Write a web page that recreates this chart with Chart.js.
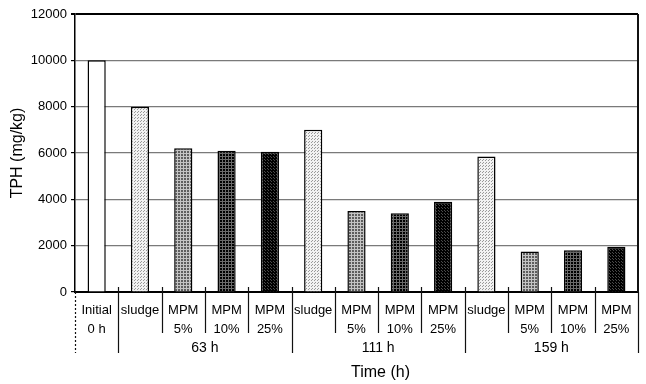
<!DOCTYPE html>
<html>
<head>
<meta charset="utf-8">
<script src="https://cdn.jsdelivr.net/npm/chart.js@4.4.1/dist/chart.umd.min.js"></script>
<style>
  html, body { margin: 0; padding: 0; background: #fff; }
  #wrap { width: 646px; height: 384px; }
</style>
</head>
<body>
<div id="wrap"><canvas id="tphChart"></canvas></div>
<script>
// data
const categories = [
  ['Initial', '0 h'], 'sludge', ['MPM', '5%'], ['MPM', '10%'], ['MPM', '25%'],
  'sludge', ['MPM', '5%'], ['MPM', '10%'], ['MPM', '25%'],
  'sludge', ['MPM', '5%'], ['MPM', '10%'], ['MPM', '25%']
];
const treatment = ['initial', 'sludge', 'mpm5', 'mpm10', 'mpm25',
  'sludge', 'mpm5', 'mpm10', 'mpm25',
  'sludge', 'mpm5', 'mpm10', 'mpm25'];
const tph = [10000, 8000, 6200, 6100, 6050, 7000, 3500, 3400, 3900, 5850, 1750, 1800, 1950];
const groupLabels = ['63 h', '111 h', '159 h'];
const groupStart = [1, 5, 9];
const groupEnd = [4, 8, 12];
const yTicks = [0, 2000, 4000, 6000, 8000, 10000, 12000];

const FONT = "'Liberation Sans', Arial, sans-serif";

// little screen-tone patterns like the printed figure
function tone(size, bg, fg, cells) {
  const c = document.createElement('canvas');
  c.width = size; c.height = size;
  const g = c.getContext('2d');
  g.fillStyle = bg;
  g.fillRect(0, 0, size, size);
  g.fillStyle = fg;
  cells.forEach(p => g.fillRect(p[0], p[1], 1, 1));
  return g.createPattern(c, 'repeat');
}
const cross3 = [[0, 0], [1, 0], [2, 0], [0, 1], [0, 2]];
const fills = {
  initial: '#ffffff',
  sludge: tone(3, '#f2f2f2', '#999999', [[0, 0], [2, 1]]),
  mpm5: tone(3, '#5e5e5e', '#c4c4c4', cross3),
  mpm10: tone(3, '#000000', '#6a6a6a', cross3),
  mpm25: tone(3, '#000000', '#4a4a4a', [[1, 1], [0, 0]])
};

// separators, group row and x title under the axis
const labelRows = {
  id: 'labelRows',
  afterDraw(chart) {
    const ctx = chart.ctx;
    const xs = chart.scales.x;
    const ca = chart.chartArea;
    const n = categories.length;
    const longAfter = [-1, 0, 4, 8, 12];
    const edge = i => {
      if (i < 0) return ca.left;
      if (i >= n - 1) return ca.right;
      return (xs.getPixelForValue(i) + xs.getPixelForValue(i + 1)) / 2;
    };
    ctx.save();
    ctx.strokeStyle = '#111';
    ctx.lineWidth = 1.2;
    for (let i = -1; i < n; i++) {
      const x = Math.round(edge(i)) + 0.5;
      const isLong = longAfter.includes(i);
      ctx.setLineDash(i === -1 ? [2, 2] : []);
      ctx.beginPath();
      ctx.moveTo(x, ca.bottom - (i === -1 || i === n - 1 ? 0 : 5));
      ctx.lineTo(x, ca.bottom + (isLong ? 61 : 41));
      ctx.stroke();
    }
    ctx.setLineDash([]);
    // right frame
    ctx.lineWidth = 2;
    ctx.beginPath();
    ctx.moveTo(ca.right, ca.top);
    ctx.lineTo(ca.right, ca.bottom);
    ctx.stroke();

    ctx.fillStyle = '#000';
    ctx.textAlign = 'center';
    ctx.textBaseline = 'middle';
    ctx.font = '14px ' + FONT;
    groupLabels.forEach((lab, k) => {
      const cx = (xs.getPixelForValue(groupStart[k]) + xs.getPixelForValue(groupEnd[k])) / 2;
      ctx.fillText(lab, cx, ca.bottom + 56);
    });
    ctx.font = '16px ' + FONT;
    ctx.fillText('Time (h)', (ca.left + ca.right) / 2 + 24, ca.bottom + 81);
    ctx.restore();
  }
};

new Chart(document.getElementById('tphChart'), {
  type: 'bar',
  data: {
    labels: categories,
    datasets: [{
      label: 'TPH',
      data: tph,
      backgroundColor: treatment.map(t => fills[t]),
      borderColor: '#000',
      borderWidth: 1.5,
      barPercentage: 0.42,
      categoryPercentage: 1
    }]
  },
  options: {
    responsive: true,
    maintainAspectRatio: false,
    animation: false,
    layout: { padding: { top: 14, right: 8 } },
    plugins: {
      legend: { display: false },
      tooltip: { enabled: false }
    },
    scales: {
      x: {
        grid: { display: false },
        border: { display: true, color: '#000', width: 2 },
        ticks: {
          color: '#000',
          padding: 1,
          maxRotation: 0,
          autoSkip: false,
          font: { family: FONT, size: 13, lineHeight: 1.45 }
        },
        afterFit(scale) { scale.height = 92; }
      },
      y: {
        min: 0,
        max: 12000,
        afterBuildTicks(scale) { scale.ticks = yTicks.map(v => ({ value: v })); },
        grid: {
          color: ctx => ctx.tick && ctx.tick.value === 12000 ? '#000' : '#7a7a7a',
          lineWidth: ctx => ctx.tick && ctx.tick.value === 12000 ? 2 : 1.2,
          tickColor: '#000',
          tickLength: 4
        },
        border: { display: true, color: '#000', width: 1.5 },
        ticks: {
          color: '#000',
          padding: 4,
          font: { family: FONT, size: 13 },
          callback: v => String(v)
        },
        title: {
          display: true,
          text: 'TPH (mg/kg)',
          color: '#000',
          padding: { top: 8, bottom: 0 },
          font: { family: FONT, size: 16 }
        },
        afterFit(scale) { scale.width = 75; }
      }
    }
  },
  plugins: [labelRows]
});
</script>
</body>
</html>
